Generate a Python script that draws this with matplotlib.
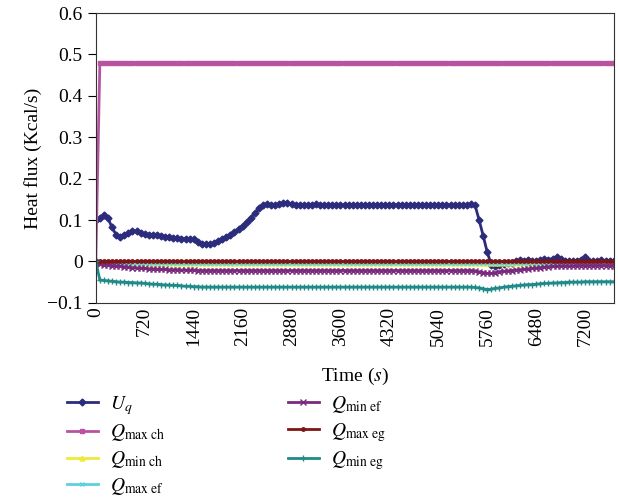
import numpy as np
import matplotlib
matplotlib.use("Agg")
import matplotlib.pyplot as plt

plt.rcParams['font.family'] = ['Liberation Serif', 'DejaVu Serif']
plt.rcParams['mathtext.fontset'] = 'stix'

# time axis (s), one reading every 60 s
time_s = np.arange(0, 7621, 60)

# heat fluxes (Kcal/s)
u_q = ([0.100, 0.106, 0.112, 0.104, 0.082, 0.064, 0.060, 0.063, 0.068, 0.074, 0.073, 0.069,
        0.066, 0.065, 0.064, 0.063, 0.062, 0.060, 0.058, 0.057, 0.056, 0.055, 0.055, 0.054,
        0.053, 0.047, 0.043, 0.041, 0.042, 0.045, 0.049, 0.054, 0.059, 0.065, 0.071, 0.078,
        0.086, 0.096, 0.106, 0.117, 0.128, 0.136, 0.139, 0.137, 0.136, 0.138, 0.141, 0.140,
        0.138, 0.137, 0.137, 0.136, 0.137, 0.137, 0.138, 0.137, 0.136, 0.136, 0.137, 0.137]
       + [0.137] * 29 +
       [0.136, 0.137, 0.137, 0.138, 0.136, 0.100, 0.062,
        0.022, -0.008, -0.010, -0.009, -0.007, -0.005, -0.003, 0.001, 0.003, 0.001, 0.004, 0.002,
        0.001, 0.003, 0.005, 0.004, 0.007, 0.010, 0.006, 0.002, 0.001, 0.001, 0.002, 0.004,
        0.010, 0.002, 0.001, 0.002, 0.003, 0.002, 0.001, 0.002])
q_max_ch = [0.0] + [0.48] * 127
q_min_ch = [0.0] + [-0.003] * 127
q_max_ef = [0.0] + [-0.005] * 127
q_min_ef = ([-0.004, -0.007, -0.008, -0.009, -0.010, -0.011, -0.012, -0.013, -0.014, -0.015, -0.016, -0.016,
             -0.017, -0.018, -0.018, -0.019, -0.019, -0.019, -0.020, -0.020, -0.020, -0.021, -0.021, -0.021,
             -0.021]
            + [-0.022] * 68 +
            [-0.023, -0.025, -0.027,
             -0.029, -0.029, -0.027, -0.025, -0.024, -0.023, -0.022, -0.021, -0.020, -0.019, -0.018, -0.017,
             -0.016, -0.015, -0.014, -0.013, -0.012, -0.012, -0.011, -0.011, -0.011, -0.011, -0.010, -0.010]
            + [-0.010] * 8)
q_max_eg = [0.0] * 128
q_min_eg = ([0.000, -0.045, -0.046, -0.047, -0.048, -0.049, -0.050, -0.050, -0.051, -0.051, -0.052, -0.052,
             -0.053, -0.054, -0.055, -0.055, -0.056, -0.057, -0.057, -0.058, -0.058, -0.059, -0.060, -0.060,
             -0.061, -0.061]
            + [-0.062] * 67 +
            [-0.063, -0.064, -0.066,
             -0.068, -0.067, -0.065, -0.064, -0.062, -0.061, -0.060, -0.059, -0.058, -0.057, -0.056, -0.056,
             -0.055, -0.054, -0.053, -0.053, -0.052, -0.052, -0.051, -0.051, -0.050, -0.050, -0.050, -0.050]
            + [-0.049] * 8)

labels = [r'$U_q$', r'$Q_{\mathrm{max\ ch}}$', r'$Q_{\mathrm{min\ ch}}$', r'$Q_{\mathrm{max\ ef}}$',
          r'$Q_{\mathrm{min\ ef}}$', r'$Q_{\mathrm{max\ eg}}$', r'$Q_{\mathrm{min\ eg}}$']
series = [u_q, q_max_ch, q_min_ch, q_max_ef, q_min_ef, q_max_eg, q_min_eg]
colors = ['#2b2d7c', '#b853a2', '#eeea3a', '#5dd0e0', '#7a2a7d', '#7e1517', '#1f8a88']
markers = ['D', 's', '^', 'x', 'x', 'o', '+']
msizes = [3.5, 3.5, 3.5, 3.5, 4, 2.5, 4]
lwidths = [1.2, 3.0, 1.2, 1.2, 3.5, 3.0, 1.2]

fig = plt.figure(figsize=(6.18, 5.03), dpi=100)
ax = fig.add_axes([0.155, 0.398, 0.838, 0.576])

for y, lab, c, m, ms, lw in zip(series, labels, colors, markers, msizes, lwidths):
    ax.plot(time_s, y, color=c, marker=m, markersize=ms, linewidth=lw, label=lab)

ax.set_xlim(0, 7620)
ax.set_ylim(-0.1, 0.6)
ax.set_xticks(np.arange(0, 7201, 720))
ax.set_yticks([-0.1, 0, 0.1, 0.2, 0.3, 0.4, 0.5, 0.6])
ax.set_yticklabels(['\u22120.1', '0', '0.1', '0.2', '0.3', '0.4', '0.5', '0.6'])
ax.tick_params(axis='x', labelrotation=90, labelsize=14, length=0, pad=3)
ax.tick_params(axis='y', labelsize=14, direction='out', length=6)
for s in ax.spines.values():
    s.set_color('#333333')
ax.set_xlabel('Time ($s$)', fontsize=14, labelpad=14)
ax.set_ylabel('Heat flux (Kcal/s)', fontsize=14)

h, l = ax.get_legend_handles_labels()
for hh in h:
    hh.set_linewidth(2)
fig.legend(h, l, loc='upper left', bbox_to_anchor=(0.08, 0.252), ncol=2, frameon=False,
           fontsize=14, handlelength=1.6, labelspacing=0.3, columnspacing=6.3, handletextpad=0.6)

fig.savefig('out.png', dpi=100)
